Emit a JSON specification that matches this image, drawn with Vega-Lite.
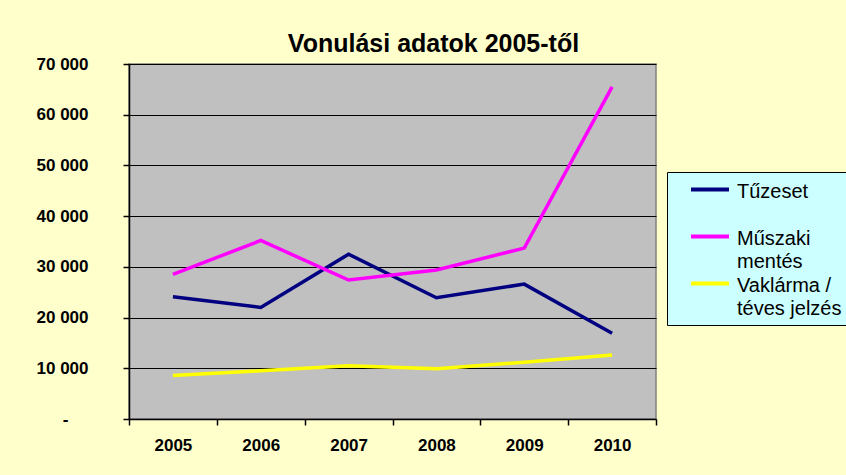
{
  "$schema": "https://vega.github.io/schema/vega-lite/v6.json",
  "autosize": {"type": "none"},
  "padding": {"left": 129, "top": 64, "right": 190, "bottom": 56},
  "width": 527,
  "height": 355,
  "background": "#FFFFCC",
  "title": {
    "text": "Vonulási adatok 2005-től",
    "font": "Liberation Sans",
    "fontSize": 25,
    "fontWeight": "bold",
    "color": "#000000",
    "anchor": "middle",
    "dx": 41,
    "offset": -2
  },
  "data": {
    "values": [
      {"year": "2005", "series": "Tűzeset", "value": 24100},
      {"year": "2006", "series": "Tűzeset", "value": 22000},
      {"year": "2007", "series": "Tűzeset", "value": 32500},
      {"year": "2008", "series": "Tűzeset", "value": 23900},
      {"year": "2009", "series": "Tűzeset", "value": 26600},
      {"year": "2010", "series": "Tűzeset", "value": 16900},
      {"year": "2005", "series": "Műszaki mentés", "value": 28500},
      {"year": "2006", "series": "Műszaki mentés", "value": 35200},
      {"year": "2007", "series": "Műszaki mentés", "value": 27400},
      {"year": "2008", "series": "Műszaki mentés", "value": 29400},
      {"year": "2009", "series": "Műszaki mentés", "value": 33700},
      {"year": "2010", "series": "Műszaki mentés", "value": 65500},
      {"year": "2005", "series": "Vaklárma / téves jelzés", "value": 8600},
      {"year": "2006", "series": "Vaklárma / téves jelzés", "value": 9500},
      {"year": "2007", "series": "Vaklárma / téves jelzés", "value": 10500},
      {"year": "2008", "series": "Vaklárma / téves jelzés", "value": 9900},
      {"year": "2009", "series": "Vaklárma / téves jelzés", "value": 11200},
      {"year": "2010", "series": "Vaklárma / téves jelzés", "value": 12600}
    ]
  },
  "mark": {"type": "line", "strokeWidth": 3.5, "strokeJoin": "miter"},
  "encoding": {
    "x": {
      "field": "year",
      "type": "nominal",
      "scale": {"type": "band", "paddingInner": 0, "paddingOuter": 0},
      "axis": {
        "title": null,
        "labelAngle": 0,
        "tickBand": "extent",
        "grid": false,
        "domainColor": "#000000",
        "domainWidth": 1.5,
        "tickColor": "#000000",
        "tickWidth": 1.5,
        "tickSize": 6,
        "labelPadding": 12,
        "labelFont": "Liberation Sans",
        "labelFontSize": 17,
        "labelFontWeight": "bold",
        "labelColor": "#000000"
      }
    },
    "y": {
      "field": "value",
      "type": "quantitative",
      "scale": {"domain": [0, 70000], "nice": false},
      "axis": {
        "title": null,
        "values": [0, 10000, 20000, 30000, 40000, 50000, 60000, 70000],
        "labelExpr": "datum.value == 0 ? '-' : replace(format(datum.value, ','), ',', ' ')",
        "grid": true,
        "gridColor": "#000000",
        "gridWidth": 1.2,
        "gridOpacity": 1,
        "domainColor": "#000000",
        "domainWidth": 1.5,
        "tickColor": "#000000",
        "tickWidth": 1.5,
        "tickSize": 6,
        "labelPadding": {"condition": {"test": "datum.value == 0", "value": 55}, "value": 35},
        "labelFont": "Liberation Sans",
        "labelFontSize": 17,
        "labelFontWeight": "bold",
        "labelColor": "#000000"
      }
    },
    "color": {
      "field": "series",
      "type": "nominal",
      "scale": {
        "domain": ["Tűzeset", "Műszaki mentés", "Vaklárma / téves jelzés"],
        "range": ["#000080", "#FF00FF", "#FFFF00"]
      },
      "legend": {
        "title": null,
        "orient": "none",
        "legendX": 538,
        "legendY": 108,
        "padding": 6,
        "symbolOffset": 25.5,
        "symbolType": "M-2,0H2",
        "symbolSize": 361,
        "symbolStrokeWidth": 4,
        "labelOffset": 15.5,
        "labelFont": "Liberation Sans",
        "labelFontSize": 20,
        "labelColor": "#000000",
        "labelLimit": 300,
        "labelBaseline": "alphabetic",
        "rowPadding": 0,
        "labelExpr": "datum.label == 'Tűzeset' ? ['Tűzeset', ''] : datum.label == 'Műszaki mentés' ? ['Műszaki', 'mentés'] : ['Vaklárma /', 'téves jelzés']",
        "fillColor": "#CCFFFF",
        "strokeColor": "#000000",
        "encode": {
          "labels": {
            "update": {
              "dy": {"value": 8},
              "lineHeight": {"value": 23}
            }
          }
        }
      }
    }
  },
  "config": {
    "view": {"fill": "#C0C0C0", "stroke": "#808080", "strokeWidth": 1.5}
  }
}
